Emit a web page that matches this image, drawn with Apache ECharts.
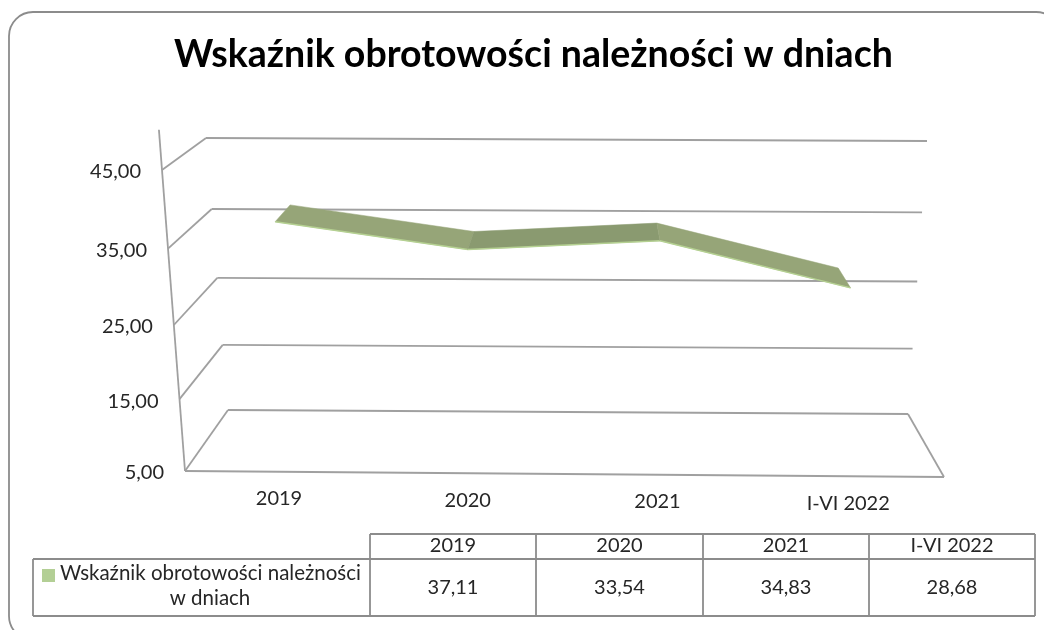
<!DOCTYPE html>
<html>
<head>
<meta charset="utf-8">
<style>
  html, body { margin: 0; padding: 0; background: #fff; }
  #chart { width: 1044px; height: 630px; }
</style>
<script src="https://cdn.jsdelivr.net/npm/echarts@6/dist/echarts.min.js"></script>
</head>
<body>
<div id="chart"></div>
<script>
const titleText = 'Wskaźnik obrotowości należności w dniach';
const seriesName = 'Wskaźnik obrotowości należności w dniach';
const categories = ['2019', '2020', '2021', 'I-VI 2022'];
const values = [37.11, 33.54, 34.83, 28.68];
const yTicks = [5, 15, 25, 35, 45];
const yAxisTop = 50;

const FONT = 'Lato';
const LINE = '#a0a0a0';
const TEXT = '#262626';

// hidden grid, its pixels are then pushed through the 3D walls below
const GRID = { left: 200, top: 100, width: 700, height: 350 };

// wall corners: bottom left, bottom right, top right, top left (v=5 and v=45)
const frontQuad = [[185, 471], [944, 477], [968, 173], [162, 170]];
const backQuad = [[228, 410], [908, 414], [927, 141], [206, 138]];
const ribbonDepth = [0.29, 0.73];

function homography(q) {
  const dx1 = q[1][0] - q[2][0], dx2 = q[3][0] - q[2][0], dx3 = q[0][0] - q[1][0] + q[2][0] - q[3][0];
  const dy1 = q[1][1] - q[2][1], dy2 = q[3][1] - q[2][1], dy3 = q[0][1] - q[1][1] + q[2][1] - q[3][1];
  const det = dx1 * dy2 - dx2 * dy1;
  const g = (dx3 * dy2 - dx2 * dy3) / det;
  const h = (dx1 * dy3 - dx3 * dy1) / det;
  return function (u, t) {
    const w = g * u + h * t + 1;
    return [
      ((q[1][0] - q[0][0] + g * q[1][0]) * u + (q[3][0] - q[0][0] + h * q[3][0]) * t + q[0][0]) / w,
      ((q[1][1] - q[0][1] + g * q[1][1]) * u + (q[3][1] - q[0][1] + h * q[3][1]) * t + q[0][1]) / w
    ];
  };
}
const frontWall = homography(frontQuad);
const backWall = homography(backQuad);

// grid pixel + depth (0 front, 1 back) -> picture pixel
function project(p, depth) {
  const u = (p[0] - GRID.left) / GRID.width;
  const t = (GRID.top + GRID.height - p[1]) / GRID.height;
  const a = frontWall(u, t), b = backWall(u, t);
  return [a[0] + (b[0] - a[0]) * depth, a[1] + (b[1] - a[1]) * depth];
}

function gridEdges(api, v) {
  const y = api.coord([0, v])[1];
  return [[GRID.left, y], [GRID.left + GRID.width, y]];
}

function line(a, b, color, width) {
  return {
    type: 'line',
    shape: { x1: a[0], y1: a[1], x2: b[0], y2: b[1] },
    style: { stroke: color, lineWidth: width }
  };
}

function renderWalls(params, api) {
  const v = api.value(0);
  const e = gridEdges(api, v);
  const children = [
    line(project(e[0], 0), project(e[0], 1), LINE, 1.8),
    line(project(e[0], 1), project(e[1], 1), LINE, 1.8)
  ];
  const p = project(e[0], 0);
  children.push({
    type: 'text',
    style: {
      x: p[0] - 21, y: p[1] + 2, text: String(v) + ',00', align: 'right', verticalAlign: 'middle',
      font: '20px ' + FONT, fill: TEXT
    }
  });
  if (v === yTicks[0]) {
    // floor, front edge and right edge
    children.push(line(project(e[0], 0), project(e[1], 0), LINE, 1.8));
    children.push(line(project(e[1], 0), project(e[1], 1), LINE, 1.8));
    // vertical axis in the front plane
    const top = gridEdges(api, yAxisTop);
    children.push(line(project(e[0], 0), project(top[0], 0), LINE, 1.8));
  }
  return { type: 'group', children: children };
}

function renderCategoryLabels(params, api) {
  const i = api.value(0);
  const p = project(api.coord([i, yTicks[0]]), 0);
  return {
    type: 'text',
    style: {
      x: p[0], y: p[1] + 27, text: categories[i], align: 'center', verticalAlign: 'middle',
      font: '20px ' + FONT, fill: TEXT
    }
  };
}

function renderRibbon(params, api) {
  const i = api.value(0);
  if (i >= values.length - 1) return null;
  const a = api.coord([i, values[i]]);
  const b = api.coord([i + 1, values[i + 1]]);
  const rising = values[i + 1] > values[i];
  const front = [project(a, ribbonDepth[0]), project(b, ribbonDepth[0])];
  const rear = [project(a, ribbonDepth[1]), project(b, ribbonDepth[1])];
  return {
    type: 'group',
    children: [
      {
        type: 'polygon',
        shape: { points: [front[0], front[1], rear[1], rear[0]] },
        style: { fill: rising ? '#8a9a70' : '#96a578', stroke: rising ? '#8a9a70' : '#96a578', lineWidth: 0.5 }
      },
      { type: 'line', shape: { x1: front[0][0], y1: front[0][1], x2: front[1][0], y2: front[1][1] },
        style: { stroke: '#b5d192', lineWidth: 1.5 } }
    ]
  };
}

// data table under the chart
const tableX = [33, 370, 536, 703, 869, 1035];
const tableY = [534, 559, 616];
function tableGraphics() {
  const els = [];
  const stroke = { stroke: '#8c8c8c', lineWidth: 1.8 };
  tableY.forEach(function (y, r) {
    els.push({ type: 'line', shape: { x1: r === 2 || r === 1 ? tableX[0] : tableX[1], y1: y, x2: tableX[5], y2: y }, style: stroke });
  });
  tableX.forEach(function (x, c) {
    els.push({ type: 'line', shape: { x1: x, y1: c === 0 ? tableY[1] : tableY[0], x2: x, y2: tableY[2] }, style: stroke });
  });
  categories.forEach(function (c, i) {
    const cx = (tableX[i + 1] + tableX[i + 2]) / 2;
    els.push({ type: 'text', style: { x: cx, y: 546, text: c, align: 'center', verticalAlign: 'middle', font: '20px ' + FONT, fill: TEXT } });
    els.push({ type: 'text', style: { x: cx, y: 588, text: values[i].toFixed(2).replace('.', ','), align: 'center', verticalAlign: 'middle', font: '20px ' + FONT, fill: TEXT } });
  });
  els.push({ type: 'rect', shape: { x: 42, y: 569, width: 13, height: 13 }, style: { fill: '#b3cf95' } });
  els.push({ type: 'text', style: { x: 60, y: 573, text: 'Wskaźnik obrotowości należności', align: 'left', verticalAlign: 'middle', font: '20.5px ' + FONT, fill: TEXT } });
  els.push({ type: 'text', style: { x: 210, y: 598, text: 'w dniach', align: 'center', verticalAlign: 'middle', font: '20.5px ' + FONT, fill: TEXT } });
  return els;
}

const chart = echarts.init(document.getElementById('chart'), null, { renderer: 'canvas' });
chart.setOption({
  animation: false,
  backgroundColor: '#fff',
  title: {
    text: titleText,
    left: 169,
    top: 31,
    textStyle: { fontFamily: FONT, fontWeight: 'bold', fontSize: 37.5, color: '#000' }
  },
  grid: GRID,
  xAxis: { type: 'category', data: categories, show: false },
  yAxis: { type: 'value', min: 5, max: 45, show: false },
  graphic: [
    { type: 'rect', z: 0, shape: { x: 9, y: 12, width: 1051, height: 628, r: 24 }, style: { fill: 'none', stroke: '#8c8c8c', lineWidth: 1.8 } }
  ].concat(tableGraphics()),
  series: [
    { type: 'custom', name: 'walls', coordinateSystem: 'cartesian2d', renderItem: renderWalls, data: yTicks.map(v => [v]), z: 1, silent: true, encode: { y: 0 } },
    { type: 'custom', name: 'labels', coordinateSystem: 'cartesian2d', renderItem: renderCategoryLabels, data: categories.map((c, i) => [i]), z: 1, silent: true, encode: { x: 0 } },
    { type: 'custom', name: seriesName, coordinateSystem: 'cartesian2d', renderItem: renderRibbon, data: categories.map((c, i) => [i]), z: 2, encode: { x: 0 } }
  ]
});
</script>
</body>
</html>
